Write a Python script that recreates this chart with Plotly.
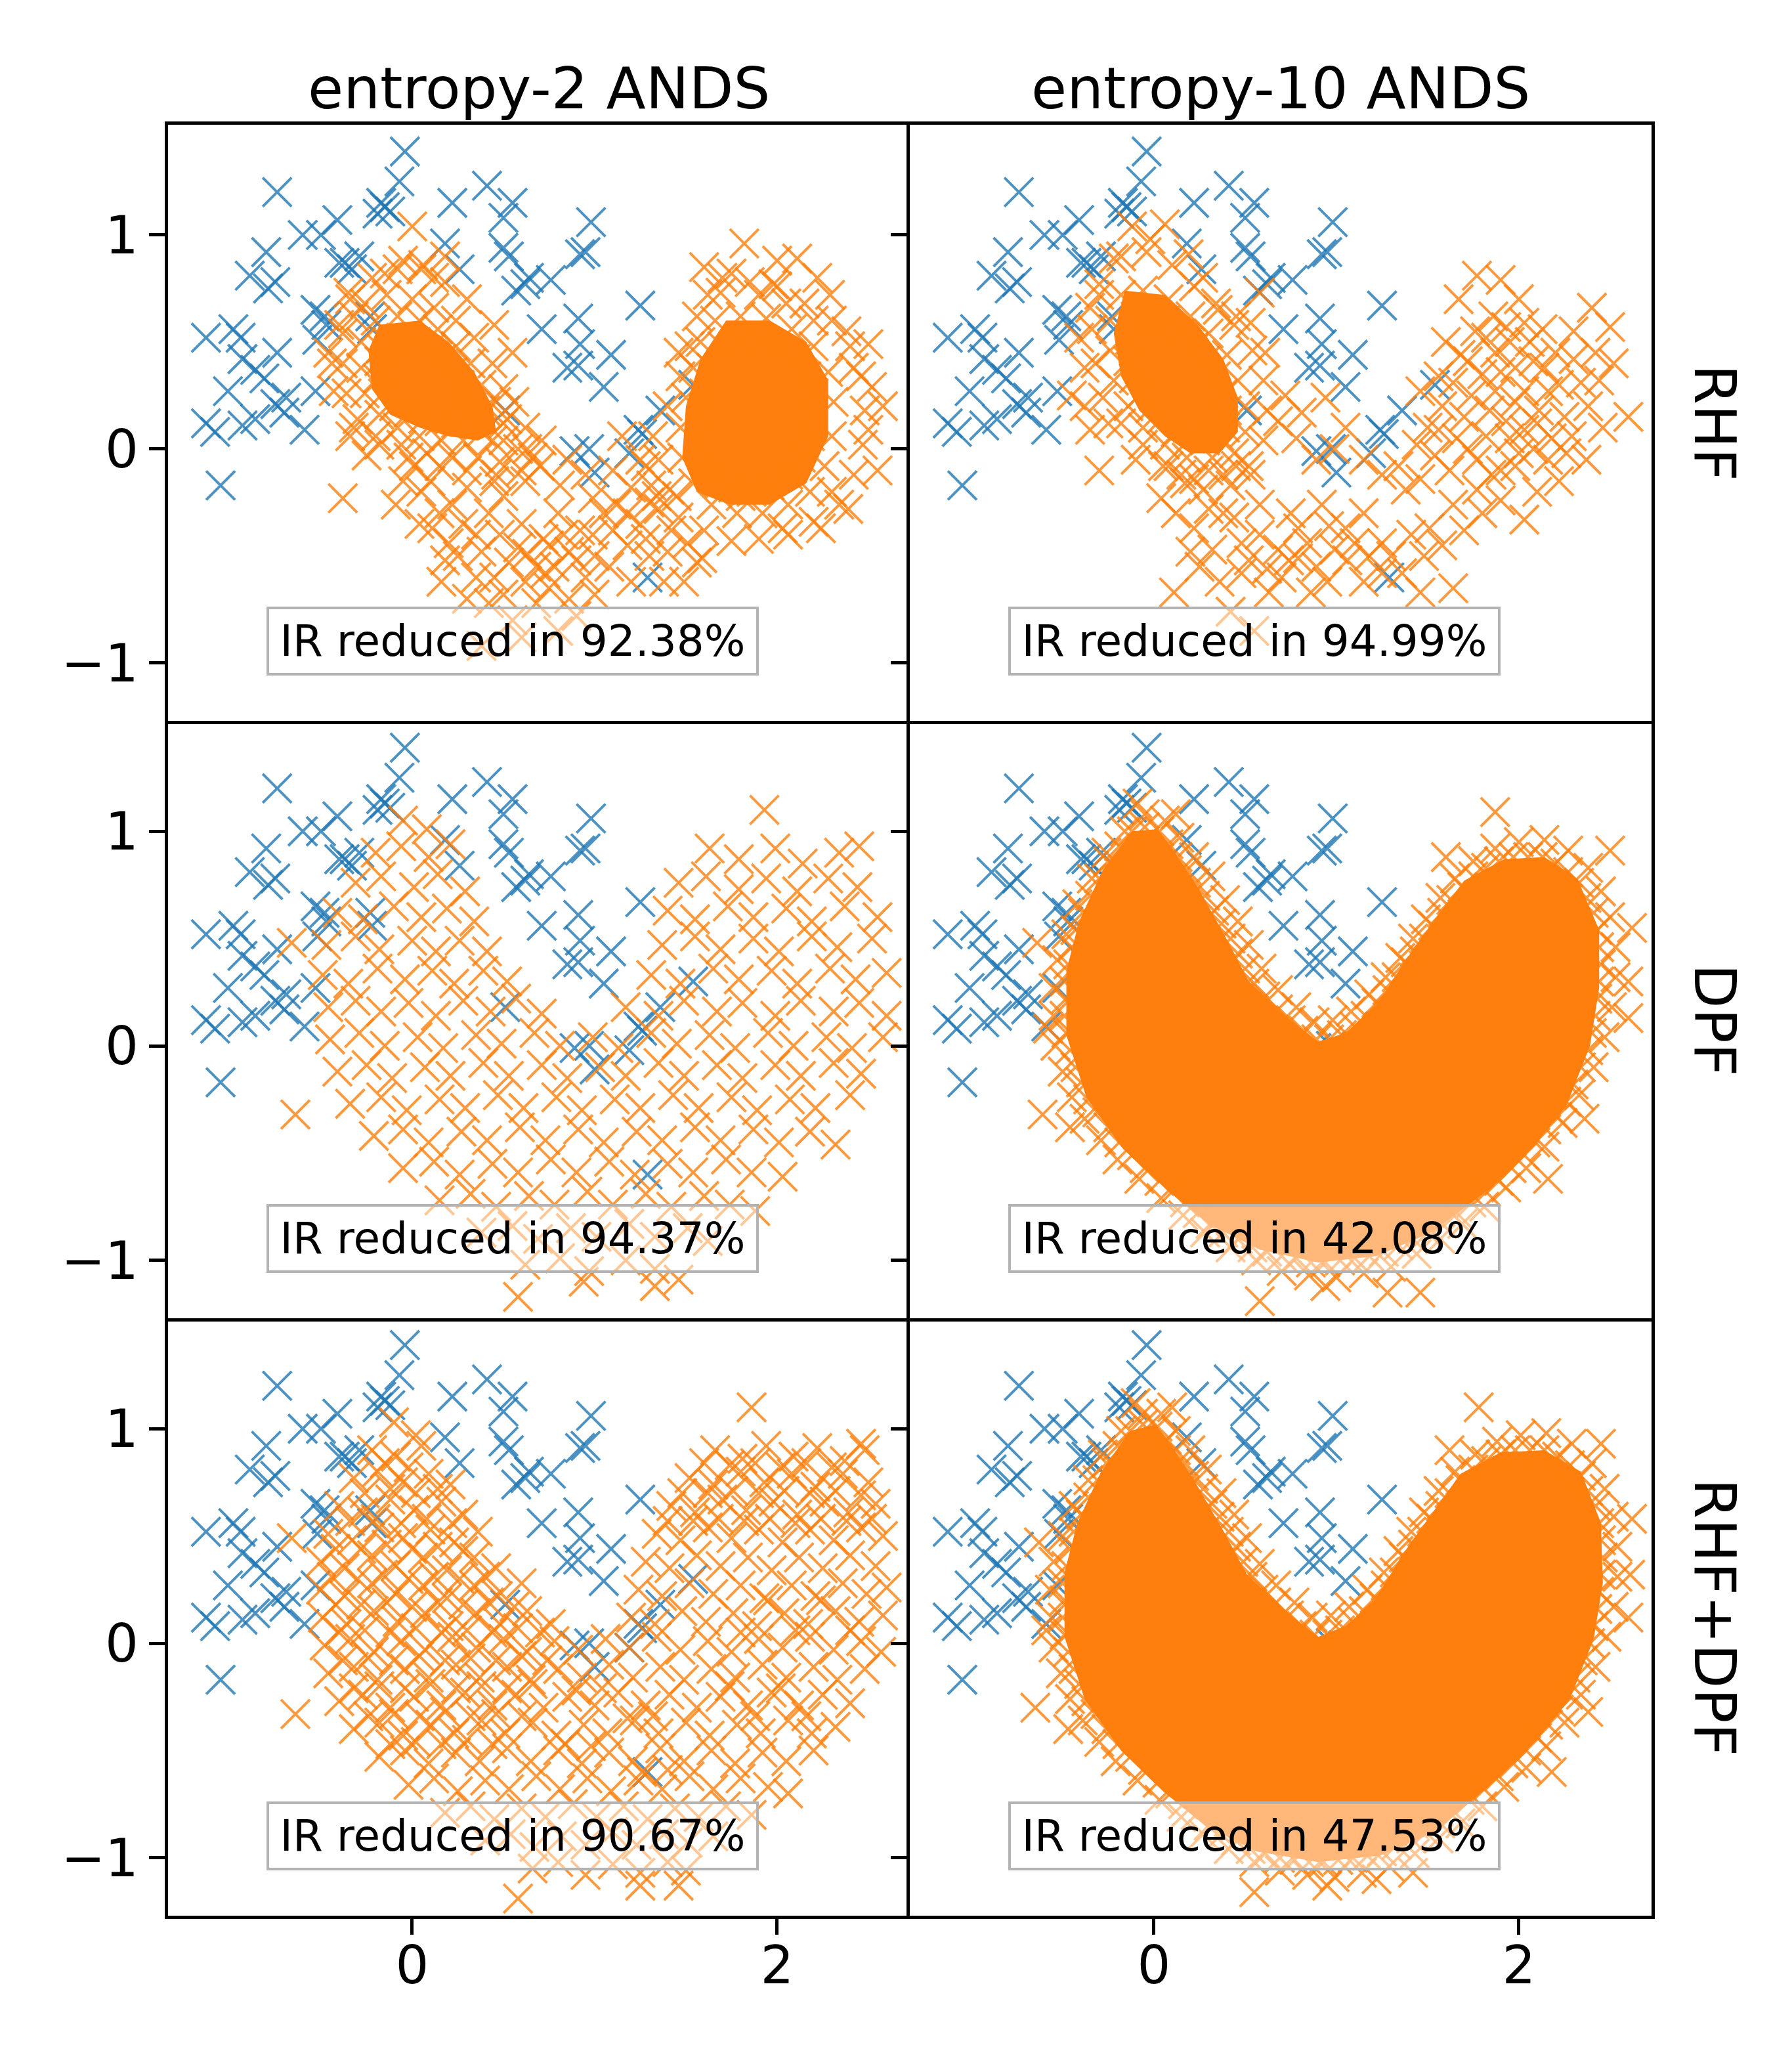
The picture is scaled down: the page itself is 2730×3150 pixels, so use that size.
import plotly.graph_objects as go
from plotly.subplots import make_subplots

# minority class (same in every panel)
BLUE_PTS = [
    (-0.04, 1.39), (-0.74, 1.20), (-0.07, 1.25), (0.41, 1.23), (0.55, 1.15), (0.22, 1.15),
    (-0.17, 1.15), (-0.19, 1.10), (-0.12, 1.11), (-0.15, 1.13), (0.50, 1.08), (-0.41, 1.07),
    (-0.50, 1.00), (-0.60, 1.00), (-0.80, 0.92), (-0.89, 0.81), (-0.75, 0.78), (-0.79, 0.75),
    (-0.37, 0.87), (-0.29, 0.90), (0.18, 0.96), (0.50, 0.94), (0.53, 0.90), (0.57, 0.74),
    (0.62, 0.77), (0.76, 0.79), (0.92, 0.91), (0.95, 0.92), (0.98, 1.06), (-0.53, 0.65),
    (-0.48, 0.62), (-0.52, 0.51), (-0.23, 0.62), (-0.22, 0.56), (-1.13, 0.52), (-0.98, 0.56),
    (-0.94, 0.52), (-0.74, 0.45), (-0.93, 0.42), (-1.01, 0.27), (-0.86, 0.37), (-0.81, 0.33),
    (-0.75, 0.21), (-0.70, 0.17), (-0.69, 0.24), (-0.53, 0.27), (-1.13, 0.12), (-1.08, 0.08),
    (-0.93, 0.11), (-0.86, 0.14), (-0.59, 0.09), (-1.05, -0.17), (1.25, 0.67), (0.71, 0.56),
    (0.91, 0.61), (0.92, 0.49), (1.09, 0.44), (0.85, 0.38), (0.91, 0.39), (1.05, 0.29),
    (1.54, 0.30), (1.36, 0.18), (1.24, 0.09), (1.26, 0.07), (0.97, 0.00), (1.00, -0.11),
    (1.19, -0.02), (0.51, 0.18), (1.29, -0.60), (0.64, 0.80), (0.26, 0.84), (-0.40, 0.87),
    (-0.33, 0.84), (-0.47, 0.58), (0.89, -0.01),
]

# RHF / entropy-2
TL_CORE_LEFT = [(-0.18, 0.58), (0.04, 0.60), (0.20, 0.50), (0.34, 0.36), (0.44, 0.20), (0.46, 0.08),
                (0.36, 0.04), (0.20, 0.06), (0.04, 0.10), (-0.12, 0.16), (-0.22, 0.28), (-0.24, 0.46)]
TL_CORE_RIGHT = [(1.72, 0.60), (1.96, 0.60), (2.16, 0.50), (2.28, 0.32), (2.28, 0.06), (2.16, -0.16),
                 (1.96, -0.26), (1.74, -0.26), (1.56, -0.20), (1.48, -0.04), (1.50, 0.20), (1.58, 0.42)]
TL_ORANGE = [
    # left cluster, dense rings
    (-0.14, 0.50), (-0.06, 0.52), (0.02, 0.50), (0.10, 0.47), (0.16, 0.42), (0.22, 0.36),
    (0.26, 0.30), (0.29, 0.23), (0.30, 0.16), (0.24, 0.12), (0.15, 0.13), (0.06, 0.14),
    (-0.02, 0.17), (-0.10, 0.20), (-0.16, 0.26), (-0.19, 0.33), (-0.18, 0.41), (-0.17, 0.47),
    (-0.20, 0.60), (-0.08, 0.62), (0.04, 0.60), (0.14, 0.56), (0.24, 0.48), (0.32, 0.40),
    (0.38, 0.30), (0.40, 0.18), (0.38, 0.08), (0.28, 0.04), (0.16, 0.04), (0.04, 0.06),
    (-0.08, 0.10), (-0.18, 0.16), (-0.26, 0.26), (-0.28, 0.38), (-0.28, 0.50), (0.46, 0.22),
    (0.50, 0.12), (0.44, 0.04),
    (-0.26, 0.68), (-0.14, 0.72), (0.00, 0.70), (0.12, 0.66), (0.24, 0.60), (0.34, 0.52),
    (0.44, 0.40), (0.50, 0.28), (0.52, 0.14), (0.50, 0.04), (0.58, 0.00), (0.48, -0.06),
    (0.36, -0.04), (0.22, -0.04), (0.08, -0.02), (-0.06, 0.02), (-0.20, 0.06), (-0.30, 0.14),
    (-0.36, 0.26), (-0.38, 0.40), (-0.38, 0.54), (-0.32, 0.62), (0.62, 0.10), (0.56, 0.22),
    (0.46, -0.12), (0.60, -0.10),
    (-0.22, 0.80), (-0.08, 0.84), (0.06, 0.86), (0.18, 0.78), (0.30, 0.70), (0.45, 0.58),
    (0.55, 0.45), (0.66, -0.04), (0.30, -0.10), (0.15, -0.08), (-0.02, -0.04), (-0.18, 0.02),
    (-0.32, 0.10), (-0.44, 0.40), (-0.40, 0.58), (-0.34, 0.70), (-0.35, 0.73), (-0.46, 0.45),
    (-0.43, 0.27), (-0.34, 0.06), (-0.25, -0.03), (-0.38, -0.23), (0.00, 1.04), (0.05, 0.84),
    (-0.05, 0.88), (0.18, 0.90), (0.12, 0.80), (-0.15, 0.82),
    # lower arc
    (0.63, 0.00), (0.71, 0.04), (0.70, -0.08), (0.81, -0.17), (0.99, -0.23), (1.15, 0.06),
    (1.25, -0.05), (1.10, -0.10), (0.01, -0.08), (0.10, -0.15), (0.22, -0.26), (0.30, -0.18),
    (0.35, -0.40), (0.42, -0.30), (0.50, -0.22), (0.60, -0.35), (0.63, -0.49), (0.72, -0.42),
    (0.80, -0.30), (0.86, -0.48), (0.92, -0.38), (0.99, -0.40), (1.05, -0.30), (1.12, -0.26),
    (1.25, -0.35), (1.18, -0.45), (1.35, -0.28), (1.42, -0.38), (1.51, -0.44), (1.56, -0.53),
    (1.38, -0.62), (1.30, -0.50), (0.73, -0.58), (0.53, -0.53), (0.16, -0.62), (0.42, -0.72),
    (0.68, -0.72), (0.86, -0.70), (0.11, -0.37), (-0.09, -0.26), (0.04, -0.35), (0.25, -0.50),
    (0.45, -0.60), (0.78, -0.55), (0.95, -0.60), (1.08, -0.55), (1.20, -0.62), (0.62, -0.62),
    (0.20, -0.44), (0.55, -0.80), (0.60, -0.88), (0.80, -0.85), (0.38, -0.92),
    (0.05, -0.20), (0.15, -0.30), (0.28, -0.35), (0.38, -0.48), (0.48, -0.40), (0.58, -0.46),
    (0.68, -0.55), (0.75, -0.45), (0.83, -0.40), (0.90, -0.52), (1.00, -0.50), (1.10, -0.38),
    (1.18, -0.30), (1.28, -0.42), (1.40, -0.48), (1.45, -0.22), (0.35, -0.60), (0.50, -0.68),
    (0.75, -0.65), (0.90, -0.78), (1.00, -0.68), (0.30, -0.70), (0.18, -0.52), (-0.05, -0.15),
    (0.62, -0.15), (0.45, -0.15), (0.85, -0.05), (0.95, -0.12), (1.20, -0.18), (1.30, -0.25),
    # right cluster
    (1.70, 0.48), (1.80, 0.51), (1.90, 0.50), (2.00, 0.47), (2.10, 0.42), (2.16, 0.34),
    (2.20, 0.26), (2.19, 0.16), (2.18, 0.06), (2.13, -0.04), (2.06, -0.12), (1.96, -0.17),
    (1.86, -0.20), (1.76, -0.18), (1.66, -0.14), (1.61, -0.05), (1.58, 0.04), (1.59, 0.14),
    (1.60, 0.26), (1.64, 0.38),
    (1.66, 0.60), (1.80, 0.62), (1.94, 0.61), (2.08, 0.56), (2.20, 0.48), (2.28, 0.36),
    (2.31, 0.22), (2.30, 0.06), (2.26, -0.08), (2.18, -0.20), (2.06, -0.26), (1.92, -0.30),
    (1.78, -0.30), (1.64, -0.26), (1.54, -0.16), (1.48, -0.04), (1.47, 0.10), (1.50, 0.24),
    (1.54, 0.38), (1.58, 0.50),
    (1.70, 0.80), (1.85, 0.78), (2.00, 0.76), (2.15, 0.68), (2.30, 0.60), (2.40, 0.48),
    (2.46, 0.34), (2.48, 0.18), (2.47, 0.02), (2.42, -0.12), (2.34, -0.26), (2.20, -0.34),
    (2.06, -0.40), (1.90, -0.42), (1.75, -0.43), (1.60, -0.38), (1.46, -0.32), (1.34, -0.22),
    (1.28, -0.08), (1.32, 0.06), (1.40, 0.20), (1.47, 0.34), (1.52, 0.48), (1.56, 0.62),
    (1.62, 0.72),
    (1.82, 0.96), (2.11, 0.89), (1.69, 0.73), (1.98, 0.77), (2.29, 0.72), (2.50, 0.49),
    (2.52, 0.29), (2.50, 0.09), (2.39, -0.28), (2.24, -0.37), (2.03, -0.37), (1.46, 0.45),
    (1.41, -0.19), (1.31, -0.17), (1.59, -0.51), (1.49, -0.62), (1.75, 0.82), (1.90, 0.72),
    (2.05, 0.68), (2.20, 0.60), (2.38, 0.55), (2.42, 0.38), (2.55, -0.10), (2.58, 0.20),
    (1.60, 0.85), (2.00, 0.88), (2.22, 0.80), (1.35, -0.05), (2.30, -0.20), (1.80, -0.22),
]

# RHF / entropy-10
TR_CORE = [(-0.16, 0.74), (0.06, 0.72), (0.24, 0.58), (0.38, 0.42), (0.46, 0.24), (0.46, 0.08),
           (0.36, -0.02), (0.20, -0.02), (0.06, 0.06), (-0.08, 0.18), (-0.18, 0.34), (-0.22, 0.54)]
TR_ORANGE = [
    (-0.10, 0.62), (-0.02, 0.62), (0.06, 0.60), (0.14, 0.54), (0.22, 0.48), (0.28, 0.41),
    (0.34, 0.34), (0.38, 0.26), (0.40, 0.18), (0.39, 0.10), (0.36, 0.06), (0.28, 0.04),
    (0.20, 0.05), (0.12, 0.08), (0.04, 0.14), (-0.02, 0.19), (-0.07, 0.26), (-0.11, 0.33),
    (-0.14, 0.41), (-0.13, 0.51),
    (-0.18, 0.72), (-0.06, 0.74), (0.08, 0.70), (0.20, 0.62), (0.30, 0.54), (0.40, 0.44),
    (0.46, 0.32), (0.50, 0.20), (0.50, 0.08), (0.44, -0.02), (0.32, -0.04), (0.18, -0.04),
    (0.06, 0.02), (-0.06, 0.10), (-0.14, 0.20), (-0.22, 0.32), (-0.24, 0.46), (-0.24, 0.60),
    (-0.18, 0.90), (-0.04, 0.92), (0.10, 0.86), (0.22, 0.76), (0.34, 0.68), (0.44, 0.58),
    (0.54, 0.46), (0.60, 0.32), (0.62, 0.18), (0.60, 0.04), (0.52, -0.08), (0.38, -0.12),
    (0.22, -0.14), (0.08, -0.08), (-0.06, 0.02), (-0.18, 0.12), (-0.28, 0.24), (-0.32, 0.40),
    (-0.34, 0.56), (-0.30, 0.72),
    (-0.12, 1.04), (-0.02, 0.98), (0.06, 1.05), (0.19, 0.91), (0.27, 0.80), (-0.22, 0.89),
    (-0.30, 0.77), (-0.35, 0.66), (-0.41, 0.52), (-0.38, 0.38), (-0.35, 0.09), (-0.30, -0.10),
    (0.58, 0.73), (0.53, 0.59), (0.61, 0.45), (0.35, 0.65), (0.45, 0.62), (-0.45, 0.25),
    (-0.25, 0.12), (-0.10, -0.05), (0.05, -0.08), (0.15, -0.12), (0.30, -0.10), (0.45, -0.08),
    (-0.38, 0.20),
    (0.68, 0.13), (0.81, 0.17), (0.94, 0.24), (0.99, 0.00), (0.89, -0.05), (1.15, -0.05),
    (1.25, -0.12), (1.38, -0.19), (1.46, -0.14), (1.54, -0.03), (1.56, 0.09), (1.46, 0.27),
    (1.64, 0.31), (1.72, 0.41), (1.82, 0.52), (1.93, 0.57), (2.03, 0.59), (2.13, 0.56),
    (1.77, 0.81), (1.90, 0.79), (1.67, 0.70), (2.50, 0.57), (2.42, 0.45), (2.34, 0.31),
    (2.16, 0.27), (2.11, 0.18), (2.03, 0.09), (2.08, 0.00), (1.98, -0.08), (2.16, -0.05),
    (2.37, -0.05), (2.60, 0.15), (2.29, 0.06), (1.77, -0.05), (1.72, 0.00), (1.82, 0.06),
    (1.93, 0.13), (1.77, -0.19), (1.90, -0.24), (2.03, -0.33), (1.64, -0.26), (1.51, -0.37),
    (1.87, 0.27), (1.98, 0.38), (2.08, 0.41), (2.03, 0.27), (1.87, 0.45), (2.20, 0.45),
    (2.25, 0.15), (2.22, -0.15), (1.95, 0.50), (1.80, 0.35), (1.70, 0.15), (1.62, -0.10),
    (1.85, -0.12), (2.10, -0.20), (2.30, 0.55), (2.00, 0.70), (1.60, 0.50), (1.95, 0.05),
    (0.78, 0.05), (1.05, 0.10), (0.72, 0.25),
    (1.50, 0.10), (1.58, 0.20), (1.66, 0.05), (1.74, 0.25), (1.84, 0.18), (1.90, 0.36),
    (1.98, 0.22), (2.06, 0.50), (2.14, 0.38), (2.22, 0.30), (2.30, 0.42), (2.38, 0.20),
    (2.44, 0.32), (2.18, 0.05), (2.10, 0.12), (2.00, -0.02), (1.90, -0.10), (1.80, -0.30),
    (1.70, -0.38), (1.58, -0.45), (1.48, -0.50), (2.26, -0.02), (2.46, 0.10), (2.52, 0.40),
    (2.40, 0.66), (1.86, 0.62), (1.76, 0.55), (1.68, 0.44), (1.56, 0.34), (1.44, 0.02),
    (1.34, -0.08),
    (0.04, -0.23), (0.22, -0.37), (0.32, -0.47), (0.48, -0.44), (0.58, -0.40), (0.68, -0.47),
    (0.79, -0.51), (0.89, -0.55), (0.99, -0.47), (1.05, -0.37), (1.15, -0.30), (1.25, -0.44),
    (1.36, -0.58), (1.46, -0.67), (1.64, -0.65), (1.41, -0.40), (0.86, -0.67), (0.63, -0.67),
    (0.42, -0.76), (0.11, -0.67), (0.48, -0.58), (0.17, -0.16), (0.27, -0.19), (0.42, -0.17),
    (0.53, -0.12), (0.58, -0.26), (0.79, -0.37), (0.92, -0.26), (1.10, -0.44), (1.25, -0.58),
    (0.70, -0.60), (0.75, -0.30), (0.38, -0.30), (0.95, -0.62), (1.15, -0.62), (0.55, -0.85),
    (0.25, -0.55), (0.12, -0.30), (0.30, -0.28), (0.44, -0.32), (0.52, -0.52), (0.62, -0.56),
    (0.74, -0.52), (0.84, -0.44), (0.96, -0.36), (1.06, -0.52), (1.18, -0.50), (1.30, -0.50),
    (0.36, -0.62), (0.20, -0.48),
]

# DPF / entropy-2
ML_ORANGE = [
    (-0.05, 1.05), (0.08, 1.01),
    (-0.20, 0.90), (-0.06, 0.93), (0.09, 0.88), (0.21, 0.94),
    (-0.31, 0.76), (-0.17, 0.79), (0.01, 0.74), (0.14, 0.80), (0.29, 0.72),
    (-0.41, 0.62), (-0.27, 0.59), (-0.10, 0.65), (0.05, 0.60), (0.19, 0.64), (0.34, 0.58),
    (-0.47, 0.47), (-0.31, 0.51), (-0.18, 0.45), (0.00, 0.49), (0.13, 0.44), (0.26, 0.49), (0.41, 0.44),
    (-0.49, 0.33), (-0.35, 0.29), (-0.19, 0.36), (-0.04, 0.31), (0.11, 0.35), (0.23, 0.29), (0.39, 0.35),
    (0.52, 0.30),
    (-0.46, 0.18), (-0.31, 0.21), (-0.17, 0.16), (-0.02, 0.20), (0.13, 0.14), (0.28, 0.21), (0.43, 0.16),
    (0.57, 0.22), (0.71, 0.15),
    (1.93, 1.10), (2.45, 0.93),
    (1.63, 0.92), (1.79, 0.87), (1.99, 0.92), (2.14, 0.85), (2.34, 0.90),
    (1.46, 0.76), (1.61, 0.79), (1.79, 0.73), (1.94, 0.78), (2.11, 0.72), (2.28, 0.78), (2.44, 0.74),
    (1.40, 0.63), (1.55, 0.59), (1.73, 0.65), (1.87, 0.60), (2.05, 0.64), (2.19, 0.58), (2.37, 0.65),
    (2.55, 0.60),
    (1.37, 0.47), (1.55, 0.51), (1.69, 0.45), (1.87, 0.50), (2.01, 0.44), (2.19, 0.51), (2.33, 0.46),
    (2.52, 0.50),
    (1.31, 0.33), (1.47, 0.29), (1.65, 0.36), (1.79, 0.31), (1.97, 0.35), (2.11, 0.29), (2.29, 0.36),
    (2.43, 0.31), (2.60, 0.34),
    (1.17, 0.18), (1.35, 0.14), (1.49, 0.21), (1.67, 0.16), (1.81, 0.20), (1.99, 0.14), (2.13, 0.21),
    (2.31, 0.16), (2.45, 0.20), (2.60, 0.14),
    (-0.45, 0.03), (-0.29, 0.06), (-0.15, 0.00), (0.03, 0.04), (0.17, -0.01), (0.35, 0.05), (0.49, 0.01),
    (0.67, 0.06), (0.81, 0.00), (0.99, 0.04), (1.13, -0.01), (1.31, 0.06), (1.45, 0.01), (1.63, 0.05),
    (1.77, -0.01), (1.95, 0.06), (2.09, 0.00), (2.27, 0.04), (2.41, -0.01), (2.58, 0.04),
    (-0.41, -0.12), (-0.25, -0.09), (-0.11, -0.15), (0.07, -0.10), (0.21, -0.14), (0.39, -0.08),
    (0.53, -0.14), (0.71, -0.09), (0.85, -0.15), (1.03, -0.10), (1.17, -0.14), (1.35, -0.08),
    (1.49, -0.14), (1.67, -0.09), (1.81, -0.15), (1.99, -0.09), (2.13, -0.14), (2.31, -0.08), (2.46, -0.13),
    (-0.34, -0.27), (-0.17, -0.24), (-0.03, -0.30), (0.15, -0.25), (0.29, -0.29), (0.47, -0.23),
    (0.61, -0.29), (0.79, -0.24), (0.93, -0.30), (1.11, -0.25), (1.25, -0.29), (1.43, -0.23),
    (1.57, -0.29), (1.75, -0.24), (1.89, -0.30), (2.07, -0.25), (2.21, -0.29), (2.40, -0.23),
    (-0.21, -0.42), (-0.05, -0.39), (0.09, -0.45), (0.27, -0.40), (0.41, -0.44), (0.59, -0.38),
    (0.73, -0.44), (0.91, -0.39), (1.05, -0.45), (1.23, -0.40), (1.37, -0.44), (1.55, -0.38),
    (1.69, -0.44), (1.87, -0.39), (2.01, -0.45), (2.18, -0.40), (2.32, -0.46),
    (-0.05, -0.57), (0.12, -0.54), (0.26, -0.60), (0.44, -0.55), (0.58, -0.59), (0.76, -0.53),
    (0.90, -0.59), (1.08, -0.54), (1.22, -0.60), (1.40, -0.55), (1.54, -0.59), (1.72, -0.53),
    (1.86, -0.59), (2.03, -0.61),
    (0.15, -0.72), (0.32, -0.69), (0.46, -0.75), (0.64, -0.70), (0.78, -0.74), (0.96, -0.68),
    (1.10, -0.74), (1.28, -0.69), (1.42, -0.75), (1.60, -0.70), (1.74, -0.74), (1.88, -0.77),
    (0.38, -0.87), (0.55, -0.84), (0.69, -0.90), (0.87, -0.85), (1.01, -0.89), (1.19, -0.83),
    (1.33, -0.89), (1.51, -0.85), (1.62, -0.91),
    (0.62, -1.02), (0.81, -0.99), (0.97, -1.05), (1.17, -1.00), (1.33, -1.04), (1.46, -1.09),
    (0.58, -1.17), (0.94, -1.10), (1.33, -1.12), (-0.64, -0.32), (-0.66, 0.48),
]

# RHF+DPF / entropy-2
BL_ORANGE = [
    (-0.10, 1.03), (0.02, 0.97), (1.86, 1.10), (2.46, 0.93),
    (-0.22, 0.90), (-0.09, 0.87), (0.05, 0.92), (1.66, 0.90), (1.81, 0.86), (1.94, 0.92), (2.09, 0.87),
    (2.22, 0.91), (2.37, 0.85), (2.48, 0.90),
    (-0.32, 0.77), (-0.19, 0.80), (-0.05, 0.75), (0.09, 0.79), (0.21, 0.74), (1.52, 0.77), (1.65, 0.74),
    (1.80, 0.80), (1.93, 0.75), (2.08, 0.79), (2.21, 0.73), (2.36, 0.79), (2.50, 0.75),
    (-0.40, 0.64), (-0.27, 0.61), (-0.12, 0.67), (0.01, 0.62), (0.16, 0.66), (0.28, 0.60), (1.42, 0.64),
    (1.55, 0.61), (1.70, 0.67), (1.83, 0.62), (1.98, 0.66), (2.11, 0.60), (2.26, 0.66), (2.39, 0.61),
    (2.54, 0.65),
    (-0.46, 0.51), (-0.33, 0.48), (-0.18, 0.54), (-0.05, 0.49), (0.10, 0.53), (0.23, 0.47), (0.36, 0.52),
    (1.34, 0.51), (1.47, 0.48), (1.62, 0.54), (1.75, 0.49), (1.90, 0.53), (2.03, 0.47), (2.18, 0.53),
    (2.31, 0.48), (2.46, 0.54), (2.58, 0.50),
    (-0.50, 0.38), (-0.37, 0.35), (-0.22, 0.41), (-0.09, 0.36), (0.06, 0.40), (0.19, 0.34), (0.34, 0.40),
    (0.46, 0.35), (1.28, 0.38), (1.41, 0.35), (1.56, 0.41), (1.69, 0.36), (1.84, 0.40), (1.97, 0.34),
    (2.12, 0.40), (2.25, 0.35), (2.40, 0.41), (2.54, 0.36),
    (-0.50, 0.25), (-0.37, 0.22), (-0.22, 0.28), (-0.09, 0.23), (0.06, 0.27), (0.19, 0.21), (0.34, 0.27),
    (0.47, 0.22), (0.60, 0.28), (1.24, 0.25), (1.37, 0.22), (1.52, 0.28), (1.65, 0.23), (1.80, 0.27),
    (1.93, 0.21), (2.08, 0.27), (2.21, 0.22), (2.36, 0.28), (2.49, 0.23), (2.60, 0.26),
    (-0.49, 0.12), (-0.36, 0.09), (-0.21, 0.15), (-0.08, 0.10), (0.07, 0.14), (0.20, 0.08), (0.35, 0.14),
    (0.48, 0.09), (0.63, 0.15), (0.76, 0.09), (1.20, 0.12), (1.33, 0.09), (1.48, 0.15), (1.61, 0.10),
    (1.76, 0.14), (1.89, 0.08), (2.04, 0.14), (2.17, 0.09), (2.32, 0.15), (2.45, 0.10), (2.58, 0.13),
    (-0.48, -0.01), (-0.34, 0.02), (-0.21, -0.04), (-0.06, 0.01), (0.07, -0.03), (0.22, 0.03),
    (0.35, -0.02), (0.50, 0.02), (0.63, -0.04), (0.78, 0.01), (0.91, -0.03), (1.06, 0.02), (1.19, -0.02),
    (1.34, 0.03), (1.47, -0.03), (1.62, 0.01), (1.75, -0.04), (1.90, 0.02), (2.03, -0.02), (2.18, 0.03),
    (2.31, -0.03), (2.46, 0.01), (2.57, -0.04),
    (-0.46, -0.14), (-0.32, -0.11), (-0.19, -0.17), (-0.04, -0.12), (0.09, -0.16), (0.24, -0.10),
    (0.37, -0.16), (0.52, -0.11), (0.65, -0.17), (0.80, -0.12), (0.93, -0.16), (1.08, -0.10),
    (1.21, -0.16), (1.36, -0.11), (1.49, -0.17), (1.64, -0.12), (1.77, -0.16), (1.92, -0.10),
    (2.05, -0.16), (2.20, -0.11), (2.33, -0.17), (2.48, -0.12),
    (-0.40, -0.27), (-0.27, -0.24), (-0.12, -0.30), (0.01, -0.25), (0.16, -0.29), (0.29, -0.23),
    (0.44, -0.29), (0.57, -0.24), (0.72, -0.30), (0.85, -0.25), (1.00, -0.29), (1.13, -0.23),
    (1.28, -0.29), (1.41, -0.24), (1.56, -0.30), (1.69, -0.25), (1.84, -0.29), (1.97, -0.23),
    (2.12, -0.29), (2.25, -0.24), (2.40, -0.28),
    (-0.32, -0.40), (-0.18, -0.37), (-0.05, -0.43), (0.10, -0.38), (0.23, -0.42), (0.38, -0.36),
    (0.51, -0.42), (0.66, -0.37), (0.79, -0.43), (0.94, -0.38), (1.07, -0.42), (1.22, -0.36),
    (1.35, -0.42), (1.50, -0.37), (1.63, -0.43), (1.78, -0.38), (1.91, -0.42), (2.06, -0.36),
    (2.19, -0.42), (2.32, -0.39),
    (-0.18, -0.53), (-0.04, -0.50), (0.09, -0.56), (0.24, -0.51), (0.37, -0.55), (0.52, -0.49),
    (0.65, -0.55), (0.80, -0.50), (0.93, -0.56), (1.08, -0.51), (1.21, -0.55), (1.36, -0.49),
    (1.49, -0.55), (1.64, -0.50), (1.77, -0.56), (1.92, -0.51), (2.05, -0.55), (2.20, -0.50),
    (-0.02, -0.66), (0.12, -0.63), (0.25, -0.69), (0.40, -0.64), (0.53, -0.68), (0.68, -0.62),
    (0.81, -0.68), (0.96, -0.63), (1.09, -0.69), (1.24, -0.64), (1.37, -0.68), (1.52, -0.62),
    (1.65, -0.68), (1.80, -0.63), (1.95, -0.67), (2.06, -0.70),
    (0.18, -0.79), (0.32, -0.76), (0.45, -0.82), (0.60, -0.77), (0.73, -0.81), (0.88, -0.75),
    (1.01, -0.81), (1.16, -0.76), (1.29, -0.82), (1.44, -0.77), (1.57, -0.81), (1.72, -0.76), (1.86, -0.80),
    (0.40, -0.92), (0.54, -0.89), (0.67, -0.95), (0.82, -0.90), (0.95, -0.94), (1.10, -0.88),
    (1.23, -0.94), (1.38, -0.89), (1.51, -0.93), (1.65, -0.90),
    (0.66, -1.05), (0.80, -1.02), (0.95, -1.08), (1.10, -1.03), (1.25, -1.07), (1.40, -1.02), (1.50, -1.06),
    (0.58, -1.19), (1.25, -1.13), (1.46, -1.13), (-0.64, -0.33), (-0.66, 0.49),
    (-0.15, 0.84), (-0.02, 0.82), (-0.26, 0.70), (-0.12, 0.72), (0.02, 0.70), (0.14, 0.72),
    (-0.34, 0.57), (-0.20, 0.58), (-0.06, 0.56), (0.08, 0.58), (0.22, 0.56), (-0.42, 0.44),
    (-0.28, 0.44), (-0.14, 0.46), (0.00, 0.44), (0.14, 0.45), (0.28, 0.43), (-0.44, 0.31),
    (-0.30, 0.30), (-0.16, 0.32), (-0.02, 0.30), (0.12, 0.31), (0.26, 0.30), (0.40, 0.31),
    (-0.42, 0.18), (-0.28, 0.18), (-0.14, 0.19), (0.00, 0.17), (0.14, 0.19), (0.28, 0.18),
    (0.42, 0.19), (0.56, 0.17), (-0.40, 0.05), (-0.26, 0.06), (-0.12, 0.05), (0.02, 0.07),
    (0.16, 0.05), (0.30, 0.06), (0.44, 0.05), (0.58, 0.07), (0.70, 0.05), (-0.38, -0.08),
    (-0.24, -0.07), (-0.10, -0.08), (0.04, -0.06), (0.18, -0.08), (0.32, -0.07), (0.46, -0.08),
    (0.60, -0.06), (0.74, -0.08), (-0.32, -0.21), (-0.18, -0.20), (-0.04, -0.21), (0.10, -0.19),
    (0.24, -0.21), (0.38, -0.20), (0.52, -0.21), (0.66, -0.19), (-0.24, -0.34), (-0.10, -0.33),
    (0.04, -0.34), (0.18, -0.32), (0.32, -0.34), (0.46, -0.33), (0.60, -0.34), (-0.12, -0.47),
    (0.02, -0.46), (0.16, -0.47), (0.30, -0.45), (0.44, -0.47), (1.60, 0.84), (1.74, 0.83),
    (1.88, 0.84), (2.02, 0.82), (2.16, 0.84), (2.30, 0.82), (1.48, 0.70), (1.62, 0.70),
    (1.76, 0.71), (1.90, 0.70), (2.04, 0.71), (2.18, 0.70), (2.32, 0.71), (2.46, 0.69),
    (1.40, 0.57), (1.54, 0.57), (1.68, 0.58), (1.82, 0.57), (1.96, 0.58), (2.10, 0.56),
    (2.24, 0.58), (2.38, 0.57), (2.52, 0.58), (0.90, -0.22), (1.04, -0.21), (1.18, -0.35),
    (1.32, -0.34), (0.84, -0.47), (0.98, -0.48), (1.26, -0.60), (1.40, -0.59), (1.74, -0.20),
    (1.88, -0.34), (2.02, -0.21), (2.16, -0.34), (1.80, 0.05), (1.95, 0.20), (2.10, 0.06),
    (2.24, 0.20), (2.40, 0.06),
]

# DPF / entropy-10 : saturated moon body, its ragged rim, and stragglers
MR_FILL = [(-0.12, 1.00), (-0.28, 0.82), (-0.41, 0.58), (-0.48, 0.35), (-0.48, 0.05), (-0.37, -0.24),
           (-0.17, -0.48), (0.07, -0.67), (0.30, -0.83), (0.58, -0.95), (0.90, -1.01), (1.22, -0.98),
           (1.52, -0.87), (1.85, -0.66), (2.08, -0.47), (2.26, -0.28), (2.39, 0.00), (2.44, 0.27),
           (2.44, 0.54), (2.32, 0.78), (2.14, 0.88), (1.92, 0.87), (1.70, 0.77), (1.53, 0.58),
           (1.38, 0.40), (1.22, 0.19), (1.05, 0.06), (0.90, 0.02), (0.73, 0.13), (0.52, 0.30),
           (0.41, 0.48), (0.24, 0.74), (0.10, 0.92), (0.02, 1.01)]
MR_ORANGE = [
    (-0.12, 1.00), (-0.19, 0.93), (-0.25, 0.86), (-0.30, 0.78), (-0.35, 0.70), (-0.39, 0.62),
    (-0.43, 0.54), (-0.45, 0.46), (-0.47, 0.38), (-0.49, 0.30), (-0.48, 0.22), (-0.49, 0.14),
    (-0.48, 0.06), (-0.46, -0.02), (-0.43, -0.10), (-0.40, -0.17), (-0.36, -0.25), (-0.31, -0.31),
    (-0.25, -0.38), (-0.19, -0.45), (-0.12, -0.51), (-0.05, -0.57), (0.03, -0.63), (0.10, -0.68),
    (0.17, -0.73), (0.24, -0.78), (0.31, -0.83), (0.38, -0.87), (0.46, -0.90), (0.54, -0.94),
    (0.62, -0.96), (0.70, -0.98), (0.78, -0.99), (0.86, -1.01), (0.94, -1.01), (1.02, -1.00),
    (1.10, -0.99), (1.18, -0.98), (1.26, -0.96), (1.34, -0.93), (1.42, -0.90), (1.50, -0.87),
    (1.58, -0.83), (1.66, -0.78), (1.74, -0.73), (1.82, -0.68), (1.89, -0.63), (1.96, -0.57),
    (2.03, -0.51), (2.09, -0.45), (2.15, -0.39), (2.21, -0.33), (2.26, -0.26), (2.30, -0.18),
    (2.34, -0.10), (2.38, -0.02), (2.40, 0.06), (2.42, 0.14), (2.43, 0.22), (2.44, 0.30),
    (2.45, 0.38), (2.44, 0.46), (2.43, 0.54), (2.41, 0.62), (2.37, 0.69), (2.33, 0.76),
    (2.27, 0.81), (2.20, 0.85), (2.13, 0.88), (2.05, 0.88), (1.97, 0.88), (1.89, 0.86),
    (1.82, 0.83), (1.75, 0.79), (1.69, 0.74), (1.63, 0.68), (1.58, 0.62), (1.53, 0.56),
    (1.48, 0.50), (1.43, 0.44), (1.38, 0.39), (1.33, 0.32), (1.28, 0.26), (1.22, 0.20),
    (1.16, 0.14), (1.10, 0.09), (1.03, 0.05), (0.96, 0.03), (0.89, 0.03), (0.82, 0.07),
    (0.75, 0.12), (0.68, 0.17), (0.61, 0.23), (0.55, 0.29), (0.50, 0.36), (0.46, 0.43),
    (0.42, 0.50), (0.37, 0.57), (0.33, 0.63), (0.28, 0.70), (0.23, 0.76), (0.18, 0.82),
    (0.13, 0.88), (0.08, 0.94), (0.03, 1.00), (-0.05, 1.02),
    (-0.05, 1.08), (-0.16, 1.00), (-0.26, 0.90), (-0.34, 0.78), (-0.42, 0.66), (-0.48, 0.52),
    (-0.53, 0.40), (-0.55, 0.27), (-0.55, 0.14), (-0.54, 0.00), (-0.50, -0.12), (-0.45, -0.24),
    (-0.38, -0.34), (-0.29, -0.44), (-0.20, -0.53), (-0.08, -0.62), (0.04, -0.71), (0.16, -0.79),
    (0.28, -0.87), (0.42, -0.94), (0.56, -1.00), (0.70, -1.05), (0.85, -1.07), (1.00, -1.08),
    (1.15, -1.06), (1.30, -1.03), (1.44, -0.97), (1.57, -0.90), (1.69, -0.83), (1.81, -0.75),
    (1.93, -0.66), (2.04, -0.57), (2.14, -0.47), (2.24, -0.36), (2.33, -0.23), (2.41, -0.10),
    (2.47, 0.04), (2.51, 0.18), (2.53, 0.32), (2.53, 0.46), (2.50, 0.60), (2.45, 0.72),
    (2.38, 0.83), (2.27, 0.91), (2.14, 0.96), (2.00, 0.95), (1.87, 0.92), (1.75, 0.86),
    (1.65, 0.78), (1.57, 0.69), (1.49, 0.59), (1.42, 0.50), (1.35, 0.41), (1.27, 0.32),
    (1.18, 0.24), (1.08, 0.16), (0.98, 0.12), (0.88, 0.11), (0.78, 0.18), (0.68, 0.26),
    (0.59, 0.36), (0.52, 0.47), (0.46, 0.58), (0.39, 0.68), (0.31, 0.79), (0.22, 0.88),
    (0.14, 0.97), (0.06, 1.05),
    (-0.61, -0.32), (-0.64, 0.48), (1.87, 1.09), (2.50, 0.91), (2.60, 0.13), (0.58, -1.19),
    (0.94, -1.12), (1.28, -1.15), (1.46, -1.15), (2.16, -0.62), (2.60, 0.30), (-0.09, 1.13),
    (0.12, 1.08), (1.60, 0.88), (2.62, 0.55), (-0.58, 0.08), (-0.46, -0.38), (2.36, -0.34),
]

# RHF+DPF / entropy-10
BR_FILL = [(-0.13, 0.99), (-0.29, 0.80), (-0.42, 0.56), (-0.49, 0.33), (-0.49, 0.03), (-0.38, -0.26),
           (-0.18, -0.50), (0.05, -0.69), (0.28, -0.85), (0.56, -0.97), (0.90, -1.02), (1.24, -0.99),
           (1.54, -0.88), (1.87, -0.64), (2.10, -0.45), (2.28, -0.26), (2.41, 0.02), (2.46, 0.28),
           (2.45, 0.56), (2.34, 0.80), (2.14, 0.90), (1.90, 0.89), (1.68, 0.79), (1.51, 0.59),
           (1.36, 0.41), (1.21, 0.20), (1.05, 0.08), (0.90, 0.03), (0.72, 0.15), (0.51, 0.32),
           (0.39, 0.51), (0.22, 0.76), (0.08, 0.94), (0.01, 1.02)]
BR_ORANGE = [
    (-0.13, 0.99), (-0.20, 0.92), (-0.26, 0.84), (-0.31, 0.76), (-0.36, 0.68), (-0.40, 0.60),
    (-0.44, 0.52), (-0.46, 0.44), (-0.48, 0.36), (-0.50, 0.28), (-0.49, 0.20), (-0.50, 0.12),
    (-0.49, 0.04), (-0.47, -0.04), (-0.44, -0.12), (-0.41, -0.19), (-0.37, -0.27), (-0.32, -0.33),
    (-0.26, -0.40), (-0.20, -0.47), (-0.13, -0.53), (-0.06, -0.59), (0.02, -0.65), (0.09, -0.70),
    (0.16, -0.75), (0.23, -0.80), (0.30, -0.85), (0.37, -0.89), (0.45, -0.92), (0.53, -0.96),
    (0.61, -0.98), (0.69, -1.00), (0.77, -1.01), (0.85, -1.02), (0.93, -1.02), (1.01, -1.01),
    (1.09, -1.00), (1.17, -0.99), (1.25, -0.97), (1.33, -0.94), (1.41, -0.91), (1.49, -0.88),
    (1.57, -0.84), (1.65, -0.79), (1.73, -0.73), (1.81, -0.68), (1.89, -0.62), (1.97, -0.56),
    (2.04, -0.50), (2.10, -0.44), (2.16, -0.38), (2.22, -0.31), (2.27, -0.24), (2.31, -0.16),
    (2.35, -0.08), (2.39, 0.00), (2.41, 0.08), (2.43, 0.16), (2.44, 0.24), (2.45, 0.32),
    (2.46, 0.40), (2.45, 0.48), (2.44, 0.56), (2.42, 0.64), (2.38, 0.71), (2.34, 0.78),
    (2.28, 0.83), (2.21, 0.87), (2.14, 0.90), (2.06, 0.90), (1.98, 0.90), (1.90, 0.88),
    (1.82, 0.85), (1.75, 0.81), (1.68, 0.76), (1.62, 0.70), (1.57, 0.64), (1.52, 0.58),
    (1.47, 0.52), (1.42, 0.46), (1.37, 0.40), (1.32, 0.33), (1.27, 0.27), (1.21, 0.21),
    (1.15, 0.15), (1.09, 0.10), (1.02, 0.06), (0.95, 0.04), (0.88, 0.04), (0.81, 0.08),
    (0.74, 0.13), (0.67, 0.19), (0.60, 0.25), (0.54, 0.31), (0.49, 0.38), (0.45, 0.45),
    (0.41, 0.52), (0.36, 0.59), (0.32, 0.65), (0.27, 0.72), (0.22, 0.78), (0.17, 0.84),
    (0.12, 0.90), (0.07, 0.95), (0.02, 1.01), (-0.06, 1.02),
    (-0.06, 1.07), (-0.18, 0.99), (-0.28, 0.88), (-0.36, 0.76), (-0.44, 0.64), (-0.50, 0.50),
    (-0.55, 0.38), (-0.57, 0.25), (-0.56, 0.12), (-0.55, -0.02), (-0.51, -0.14), (-0.46, -0.26),
    (-0.39, -0.36), (-0.30, -0.46), (-0.21, -0.55), (-0.09, -0.64), (0.03, -0.73), (0.15, -0.81),
    (0.27, -0.89), (0.41, -0.96), (0.55, -1.02), (0.69, -1.06), (0.84, -1.08), (0.99, -1.09),
    (1.14, -1.07), (1.29, -1.04), (1.43, -0.98), (1.56, -0.91), (1.68, -0.84), (1.80, -0.76),
    (1.92, -0.67), (2.04, -0.58), (2.15, -0.48), (2.25, -0.37), (2.34, -0.24), (2.42, -0.11),
    (2.48, 0.03), (2.52, 0.17), (2.54, 0.31), (2.54, 0.45), (2.52, 0.59), (2.47, 0.72),
    (2.40, 0.84), (2.29, 0.93), (2.15, 0.98), (2.01, 0.97), (1.88, 0.94), (1.76, 0.88),
    (1.65, 0.80), (1.56, 0.71), (1.48, 0.61), (1.41, 0.52), (1.34, 0.43), (1.26, 0.33),
    (1.17, 0.25), (1.07, 0.17), (0.97, 0.13), (0.87, 0.12), (0.77, 0.19), (0.67, 0.27),
    (0.58, 0.37), (0.51, 0.49), (0.44, 0.60), (0.37, 0.70), (0.29, 0.81), (0.20, 0.90),
    (0.12, 0.99), (0.04, 1.07),
    (-0.65, -0.30), (-0.63, 0.47), (1.78, 1.10), (2.45, 0.93), (2.60, 0.12), (0.55, -1.16),
    (1.22, -1.10), (1.42, -1.07), (0.95, -1.13), (2.18, -0.60), (2.61, 0.32), (-0.10, 1.12),
    (0.10, 1.10), (1.62, 0.90), (2.62, 0.58), (-0.59, 0.06), (-0.47, -0.40), (2.38, -0.32),
]

COL_TITLES = ["entropy-2 ANDS", "entropy-10 ANDS"]
ROW_TITLES = ["RHF", "DPF", "RHF+DPF"]
IR_VALUES = [["92.38", "94.99"], ["94.37", "42.08"], ["90.67", "47.53"]]
X_TICKS = [0, 2]
Y_TICKS = [-1, 0, 1]

# (orange points, solid cores) per panel, row-major
PANELS = [
    [(TL_ORANGE, [TL_CORE_LEFT, TL_CORE_RIGHT]), (TR_ORANGE, [TR_CORE])],
    [(ML_ORANGE, []), (MR_ORANGE, [MR_FILL])],
    [(BL_ORANGE, []), (BR_ORANGE, [BR_FILL])],
]

W, H = 2730, 3150
X_RANGE = [-1.338, 2.727]
Y_RANGE = [-1.270, 1.515]
X_DOM = [(256 / W, 1386 / W), (1386 / W, 2516 / W)]
Y_DOM = [(1 - 1098 / H, 1 - 190 / H), (1 - 2008 / H, 1 - 1098 / H), (1 - 2918 / H, 1 - 2008 / H)]

BLUE = "rgba(31,119,180,0.8)"
ORANGE = "rgba(255,127,14,0.8)"
MS = 44
LW = 4
FONT = "DejaVu Sans"


def xs(pts):
    return [p[0] for p in pts]


def ys(pts):
    return [p[1] for p in pts]


def marker(color):
    return dict(symbol="x-thin", size=MS, color=color, line=dict(width=LW, color=color))


fig = make_subplots(rows=3, cols=2, horizontal_spacing=0, vertical_spacing=0)

axis_style = dict(showgrid=False, zeroline=False, showline=True,
                  linecolor="black", linewidth=5, ticklen=24, tickwidth=5,
                  tickcolor="black", tickfont=dict(size=80, color="black", family=FONT))

for r in range(3):
    for c in range(2):
        orange, cores = PANELS[r][c]
        fig.add_trace(go.Scatter(x=xs(BLUE_PTS), y=ys(BLUE_PTS), mode="markers",
                                 marker=marker(BLUE), hoverinfo="skip", showlegend=False),
                      row=r + 1, col=c + 1)
        for poly in cores:
            fig.add_trace(go.Scatter(x=xs(poly) + [poly[0][0]], y=ys(poly) + [poly[0][1]],
                                     mode="lines", fill="toself", line=dict(width=0),
                                     fillcolor="rgb(255,127,14)",
                                     hoverinfo="skip", showlegend=False),
                          row=r + 1, col=c + 1)
        fig.add_trace(go.Scatter(x=xs(orange), y=ys(orange), mode="markers",
                                 marker=marker(ORANGE), hoverinfo="skip", showlegend=False),
                      row=r + 1, col=c + 1)

        fig.update_xaxes(axis_style, domain=X_DOM[c], range=X_RANGE, tickvals=X_TICKS,
                         showticklabels=(r == 2), ticks="outside" if r == 2 else "",
                         ticklabelstandoff=-22, mirror=(r == 0), row=r + 1, col=c + 1)
        fig.update_yaxes(axis_style, domain=Y_DOM[r], range=Y_RANGE, tickvals=Y_TICKS,
                         showticklabels=(c == 0), ticks="outside",
                         mirror=(c == 1), row=r + 1, col=c + 1)

        n = r * 2 + c + 1
        suffix = "" if n == 1 else str(n)
        fig.add_annotation(text=f"IR reduced in {IR_VALUES[r][c]}%",
                           xref=f"x{suffix} domain", yref=f"y{suffix} domain",
                           x=0.4646, y=0.134, xanchor="center", yanchor="middle",
                           showarrow=False, font=dict(size=66, color="black", family=FONT),
                           bgcolor="rgba(255,255,255,0.45)", bordercolor="#b3b3b3",
                           borderwidth=4, borderpad=10, width=722)

for c, title in enumerate(COL_TITLES):
    fig.add_annotation(text=title, xref="paper", yref="paper",
                       x=sum(X_DOM[c]) / 2, y=1 - 188 / H, xanchor="center", yanchor="bottom",
                       showarrow=False, font=dict(size=88, color="black", family=FONT))

for r, title in enumerate(ROW_TITLES):
    fig.add_annotation(text=title, xref="paper", yref="paper",
                       x=2613 / W, y=sum(Y_DOM[r]) / 2, xanchor="center", yanchor="middle",
                       textangle=90, showarrow=False,
                       font=dict(size=88, color="black", family=FONT))

fig.update_layout(width=W, height=H, margin=dict(l=0, r=0, t=0, b=0),
                  paper_bgcolor="white", plot_bgcolor="white",
                  font=dict(family=FONT, color="black"), showlegend=False)

fig.write_html("out.html", config={"displayModeBar": False},
               post_script="document.body.style.margin='0';")
